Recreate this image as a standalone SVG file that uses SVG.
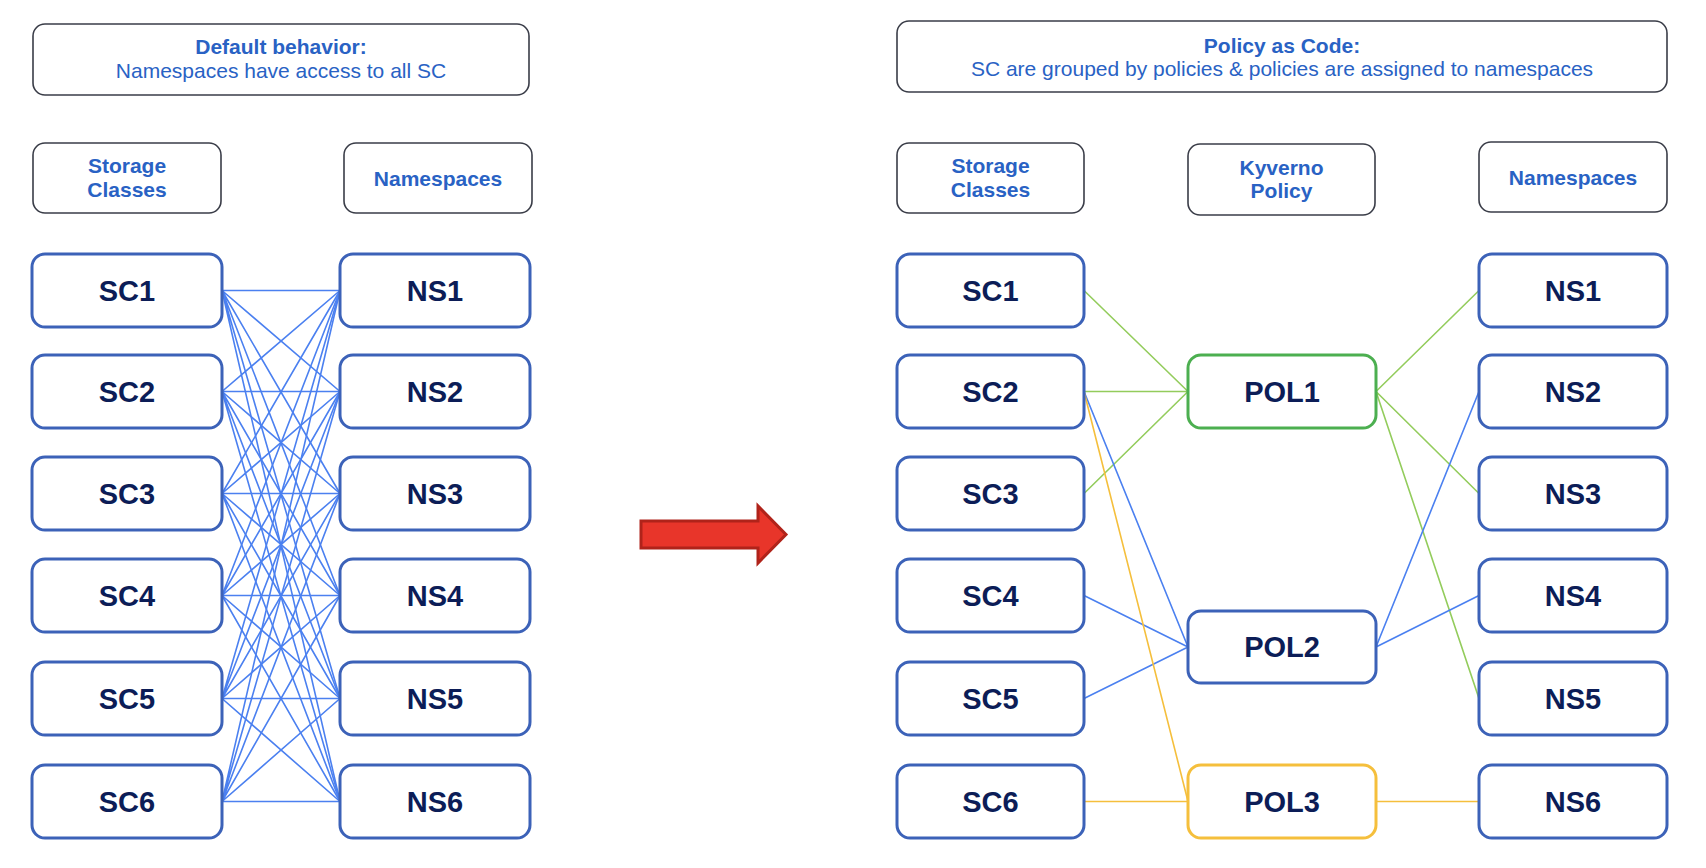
<svg xmlns="http://www.w3.org/2000/svg" width="1706" height="868" viewBox="0 0 1706 868">
<style>
.hdr{fill:#fff;stroke:#3a3d48;stroke-width:1.6}
.ht{font-family:"Liberation Sans",Arial,sans-serif;font-size:21px;fill:#2962c4;text-anchor:middle}
.b{font-weight:bold}
.node{fill:#fff;stroke:#3c62b8;stroke-width:3}
.nt{font-family:"Liberation Sans",Arial,sans-serif;font-size:29px;font-weight:bold;fill:#0c1d57;text-anchor:middle}
.cb{stroke:#4b80f0;stroke-width:1.6;fill:none}
.cg{stroke:#93cc5c;stroke-width:1.6;fill:none}
.cy{stroke:#f5bf3c;stroke-width:1.6;fill:none}
</style>
<rect width="1706" height="868" fill="#fff"/>

<g id="connectors">
  <g id="left-connectors" class="cb">
    <path d="M222 290.5L340 290.5M222 290.5L340 391.5M222 290.5L340 493.5M222 290.5L340 595.5M222 290.5L340 698.5M222 290.5L340 801.5"/>
    <path d="M222 391.5L340 290.5M222 391.5L340 391.5M222 391.5L340 493.5M222 391.5L340 595.5M222 391.5L340 698.5M222 391.5L340 801.5"/>
    <path d="M222 493.5L340 290.5M222 493.5L340 391.5M222 493.5L340 493.5M222 493.5L340 595.5M222 493.5L340 698.5M222 493.5L340 801.5"/>
    <path d="M222 595.5L340 290.5M222 595.5L340 391.5M222 595.5L340 493.5M222 595.5L340 595.5M222 595.5L340 698.5M222 595.5L340 801.5"/>
    <path d="M222 698.5L340 290.5M222 698.5L340 391.5M222 698.5L340 493.5M222 698.5L340 595.5M222 698.5L340 698.5M222 698.5L340 801.5"/>
    <path d="M222 801.5L340 290.5M222 801.5L340 391.5M222 801.5L340 493.5M222 801.5L340 595.5M222 801.5L340 698.5M222 801.5L340 801.5"/>
  </g>
  <g id="right-connectors">
    <path class="cg" d="M1084 290.5L1188 391.5M1084 391.5L1188 391.5M1084 493.5L1188 391.5M1376 391.5L1479 290.5M1376 391.5L1479 493.5M1376 391.5L1479 698.5"/>
    <path class="cb" d="M1084 391.5L1188 647M1084 595.5L1188 647M1084 698.5L1188 647M1376 647L1479 391.5M1376 647L1479 595.5"/>
    <path class="cy" d="M1084 391.5L1188 801.5M1084 801.5L1188 801.5M1376 801.5L1479 801.5"/>
  </g>
</g>

<g id="title-default">
  <rect class="hdr" x="33" y="24" width="496" height="71" rx="12"/>
  <text class="ht b" x="281" y="54">Default behavior:</text>
  <text class="ht" x="281" y="78">Namespaces have access to all SC</text>
</g>
<g id="title-policy">
  <rect class="hdr" x="897" y="21" width="770" height="71" rx="12"/>
  <text class="ht b" x="1282" y="52.5">Policy as Code:</text>
  <text class="ht" x="1282" y="76">SC are grouped by policies &amp; policies are assigned to namespaces</text>
</g>

<g id="hdr-sc-left">
  <rect class="hdr" x="33" y="143" width="188" height="70" rx="12"/>
  <text class="ht b" x="127" y="173">Storage</text>
  <text class="ht b" x="127" y="197">Classes</text>
</g>
<g id="hdr-ns-left">
  <rect class="hdr" x="344" y="143" width="188" height="70" rx="12"/>
  <text class="ht b" x="438" y="186">Namespaces</text>
</g>
<g id="hdr-sc-right">
  <rect class="hdr" x="897" y="143" width="187" height="70" rx="12"/>
  <text class="ht b" x="990.5" y="173">Storage</text>
  <text class="ht b" x="990.5" y="197">Classes</text>
</g>
<g id="hdr-kyverno">
  <rect class="hdr" x="1188" y="144" width="187" height="71" rx="12"/>
  <text class="ht b" x="1281.5" y="175">Kyverno</text>
  <text class="ht b" x="1281.5" y="198">Policy</text>
</g>
<g id="hdr-ns-right">
  <rect class="hdr" x="1479" y="142" width="188" height="70" rx="12"/>
  <text class="ht b" x="1573" y="185">Namespaces</text>
</g>

<g id="L-SC1"><rect class="node" x="32" y="254" width="190" height="73" rx="13"/><text class="nt" x="127" y="301">SC1</text></g>
<g id="L-SC2"><rect class="node" x="32" y="355" width="190" height="73" rx="13"/><text class="nt" x="127" y="402">SC2</text></g>
<g id="L-SC3"><rect class="node" x="32" y="457" width="190" height="73" rx="13"/><text class="nt" x="127" y="504">SC3</text></g>
<g id="L-SC4"><rect class="node" x="32" y="559" width="190" height="73" rx="13"/><text class="nt" x="127" y="606">SC4</text></g>
<g id="L-SC5"><rect class="node" x="32" y="662" width="190" height="73" rx="13"/><text class="nt" x="127" y="709">SC5</text></g>
<g id="L-SC6"><rect class="node" x="32" y="765" width="190" height="73" rx="13"/><text class="nt" x="127" y="812">SC6</text></g>

<g id="L-NS1"><rect class="node" x="340" y="254" width="190" height="73" rx="13"/><text class="nt" x="435" y="301">NS1</text></g>
<g id="L-NS2"><rect class="node" x="340" y="355" width="190" height="73" rx="13"/><text class="nt" x="435" y="402">NS2</text></g>
<g id="L-NS3"><rect class="node" x="340" y="457" width="190" height="73" rx="13"/><text class="nt" x="435" y="504">NS3</text></g>
<g id="L-NS4"><rect class="node" x="340" y="559" width="190" height="73" rx="13"/><text class="nt" x="435" y="606">NS4</text></g>
<g id="L-NS5"><rect class="node" x="340" y="662" width="190" height="73" rx="13"/><text class="nt" x="435" y="709">NS5</text></g>
<g id="L-NS6"><rect class="node" x="340" y="765" width="190" height="73" rx="13"/><text class="nt" x="435" y="812">NS6</text></g>

<g id="arrow">
  <polygon points="641,521 758,521 758,506 786,534.5 758,563 758,548 641,548" fill="#e8352a" stroke="#b0231a" stroke-width="3"/>
</g>

<g id="R-SC1"><rect class="node" x="897" y="254" width="187" height="73" rx="13"/><text class="nt" x="990.5" y="301">SC1</text></g>
<g id="R-SC2"><rect class="node" x="897" y="355" width="187" height="73" rx="13"/><text class="nt" x="990.5" y="402">SC2</text></g>
<g id="R-SC3"><rect class="node" x="897" y="457" width="187" height="73" rx="13"/><text class="nt" x="990.5" y="504">SC3</text></g>
<g id="R-SC4"><rect class="node" x="897" y="559" width="187" height="73" rx="13"/><text class="nt" x="990.5" y="606">SC4</text></g>
<g id="R-SC5"><rect class="node" x="897" y="662" width="187" height="73" rx="13"/><text class="nt" x="990.5" y="709">SC5</text></g>
<g id="R-SC6"><rect class="node" x="897" y="765" width="187" height="73" rx="13"/><text class="nt" x="990.5" y="812">SC6</text></g>

<g id="POL1"><rect class="node" style="stroke:#4caf50" x="1188" y="355" width="188" height="73" rx="13"/><text class="nt" x="1282" y="402">POL1</text></g>
<g id="POL2"><rect class="node" x="1188" y="611" width="188" height="72" rx="13"/><text class="nt" x="1282" y="657">POL2</text></g>
<g id="POL3"><rect class="node" style="stroke:#f5bf3c" x="1188" y="765" width="188" height="73" rx="13"/><text class="nt" x="1282" y="812">POL3</text></g>

<g id="R-NS1"><rect class="node" x="1479" y="254" width="188" height="73" rx="13"/><text class="nt" x="1573" y="301">NS1</text></g>
<g id="R-NS2"><rect class="node" x="1479" y="355" width="188" height="73" rx="13"/><text class="nt" x="1573" y="402">NS2</text></g>
<g id="R-NS3"><rect class="node" x="1479" y="457" width="188" height="73" rx="13"/><text class="nt" x="1573" y="504">NS3</text></g>
<g id="R-NS4"><rect class="node" x="1479" y="559" width="188" height="73" rx="13"/><text class="nt" x="1573" y="606">NS4</text></g>
<g id="R-NS5"><rect class="node" x="1479" y="662" width="188" height="73" rx="13"/><text class="nt" x="1573" y="709">NS5</text></g>
<g id="R-NS6"><rect class="node" x="1479" y="765" width="188" height="73" rx="13"/><text class="nt" x="1573" y="812">NS6</text></g>
</svg>
